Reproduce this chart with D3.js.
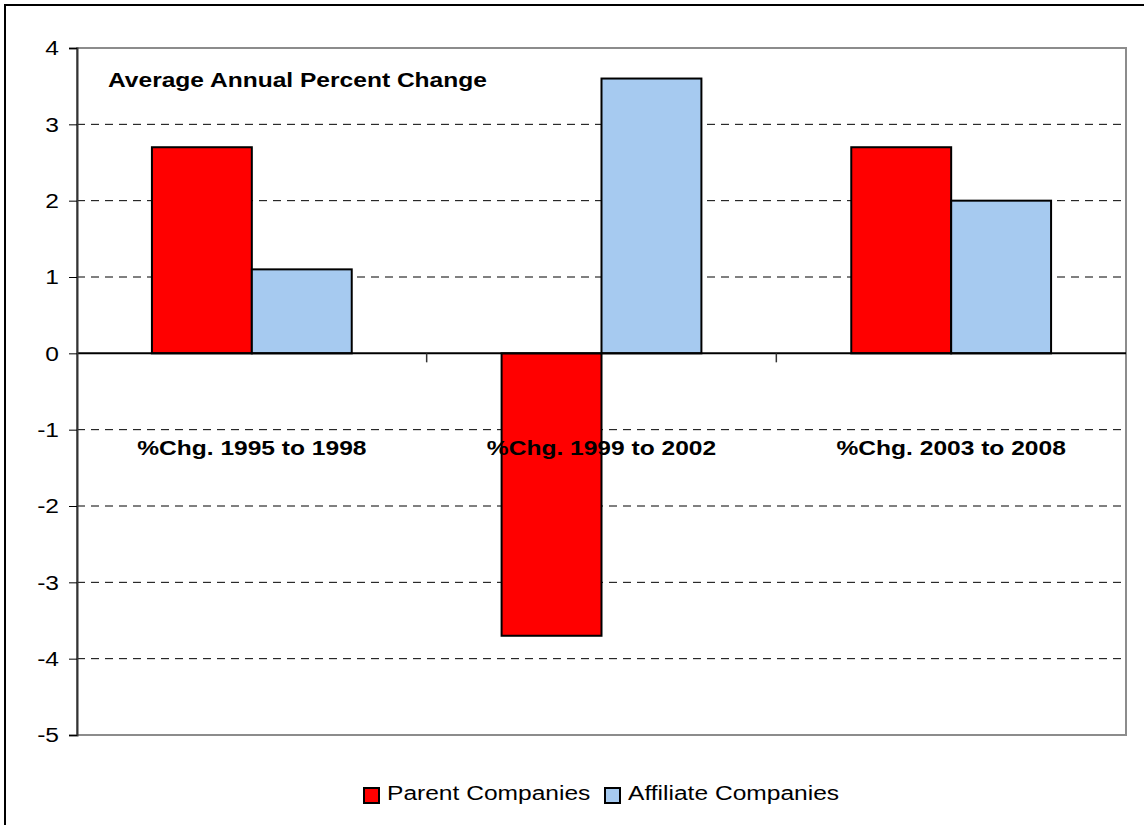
<!DOCTYPE html>
<html>
<head>
	<meta charset="utf-8">
	<title>Average Annual Percent Change</title>
	<script src="https://cdnjs.cloudflare.com/ajax/libs/d3/7.8.5/d3.min.js"></script>
	<style type="text/css">
		body { margin: 0; background: #fff; }
		text { font-family: Arial, "Liberation Sans", sans-serif; fill: #000; }
		.grid line { stroke: #000; stroke-dasharray: 8,6; stroke-width: 1px; }
		.bar { stroke: #000; stroke-width: 2px; }
	</style>
</head>
<body>
	<script type="text/javascript">
		var categories = ["%Chg. 1995 to 1998", "%Chg. 1999 to 2002", "%Chg. 2003 to 2008"];
		var seriesNames = ["Parent Companies", "Affiliate Companies"];
		var parentValues = [2.7, -3.7, 2.7];
		var affiliateValues = [1.1, 3.6, 2.0];
		var yTicks = [4, 3, 2, 1, 0, -1, -2, -3, -4, -5];
		var colors = ["#ff0000", "#a6caf0"];

		function draw() {
			"use strict";

			var W = 1144, H = 825,
				left = 77, right = 1126, top = 48, bottom = 735,
				stretch = 1.17;

			var svg = d3.select("body")
				.append("svg")
					.attr("width", W)
					.attr("height", H);

			// outer frame (right and bottom fall off the picture)
			svg.append("rect")
				.attr("x", 5).attr("y", 5)
				.attr("width", W + 10).attr("height", H + 10)
				.attr("fill", "none")
				.attr("stroke", "#000")
				.attr("stroke-width", 2);

			var y = d3.scaleLinear().domain([-5, 4]).range([bottom, top]);
			var x = d3.scaleBand().domain(categories).range([left, right]);
			var inner = d3.scaleBand().domain(seriesNames)
				.range([0, x.bandwidth()]).paddingOuter(0.75).paddingInner(0);

			// dashed gridlines
			svg.append("g")
				.attr("class", "grid")
				.selectAll("line")
				.data(yTicks.filter(function(d) { return d !== 0 && d !== 4 && d !== -5; }))
				.enter()
				.append("line")
					.attr("x1", left).attr("x2", right)
					.attr("y1", function(d) { return y(d); })
					.attr("y2", function(d) { return y(d); });

			// plot frame
			svg.append("rect")
				.attr("x", left).attr("y", top)
				.attr("width", right - left).attr("height", bottom - top)
				.attr("fill", "none")
				.attr("stroke", "#8c8c8c")
				.attr("stroke-width", 2);

			// bars
			var rows = [];
			categories.forEach(function(c, i) {
				rows.push({ cat: c, s: seriesNames[0], v: parentValues[i], color: colors[0] });
				rows.push({ cat: c, s: seriesNames[1], v: affiliateValues[i], color: colors[1] });
			});

			svg.append("g")
				.selectAll("rect")
				.data(rows)
				.enter()
				.append("rect")
					.attr("class", "bar")
					.attr("x", function(d) { return x(d.cat) + inner(d.s); })
					.attr("width", inner.bandwidth())
					.attr("y", function(d) { return y(Math.max(0, d.v)); })
					.attr("height", function(d) { return Math.abs(y(d.v) - y(0)); })
					.attr("fill", function(d) { return d.color; });

			// zero line and category ticks
			svg.append("line")
				.attr("x1", left).attr("x2", right)
				.attr("y1", y(0)).attr("y2", y(0))
				.attr("stroke", "#000").attr("stroke-width", 2);

			svg.append("g")
				.selectAll("line")
				.data(categories.slice(1))
				.enter()
				.append("line")
					.attr("x1", function(d) { return x(d); })
					.attr("x2", function(d) { return x(d); })
					.attr("y1", y(0)).attr("y2", y(0) + 9)
					.attr("stroke", "#333").attr("stroke-width", 1.5);

			// y axis
			var yAxis = d3.axisLeft(y)
				.tickValues(yTicks)
				.tickSize(8)
				.tickPadding(10)
				.tickFormat(function(d) { return String(d); });

			var ya = svg.append("g")
				.attr("class", "y axis")
				.attr("transform", "translate(" + left + ",0)")
				.call(yAxis);
			ya.select(".domain").attr("stroke", "#333").attr("stroke-width", 2);
			ya.selectAll(".tick line").attr("stroke", "#000");
			ya.selectAll(".tick text")
				.attr("font-size", 21)
				.attr("font-family", "Arial, 'Liberation Sans', sans-serif")
				.attr("transform", function() {
					var xx = +d3.select(this).attr("x");
					return "translate(" + xx + ",0) scale(" + stretch + ",1) translate(" + (-xx) + ",0)";
				});

			// category labels
			svg.append("g")
				.selectAll("text")
				.data(categories)
				.enter()
				.append("text")
					.attr("transform", function(d) {
						return "translate(" + (x(d) + x.bandwidth() / 2) + ",455) scale(" + stretch + ",1)";
					})
					.attr("text-anchor", "middle")
					.attr("font-size", 21)
					.attr("font-weight", "bold")
					.text(function(d) { return d; });

			// title inside plot
			svg.append("text")
				.attr("transform", "translate(108,87) scale(" + stretch + ",1)")
				.attr("font-size", 21)
				.attr("font-weight", "bold")
				.text("Average Annual Percent Change");

			// legend
			var legendX = [364, 605];
			var lg = svg.append("g")
				.selectAll("g")
				.data(seriesNames)
				.enter()
				.append("g")
					.attr("transform", function(d, i) { return "translate(" + legendX[i] + ",788)"; });
			lg.append("rect")
				.attr("width", 15).attr("height", 15)
				.attr("fill", function(d, i) { return colors[i]; })
				.attr("stroke", "#000").attr("stroke-width", 2);
			lg.append("text")
				.attr("transform", "translate(23,12) scale(" + stretch + ",1)")
				.attr("font-size", 21)
				.text(function(d) { return d; });
		}

		draw();
	</script>
</body>
</html>
